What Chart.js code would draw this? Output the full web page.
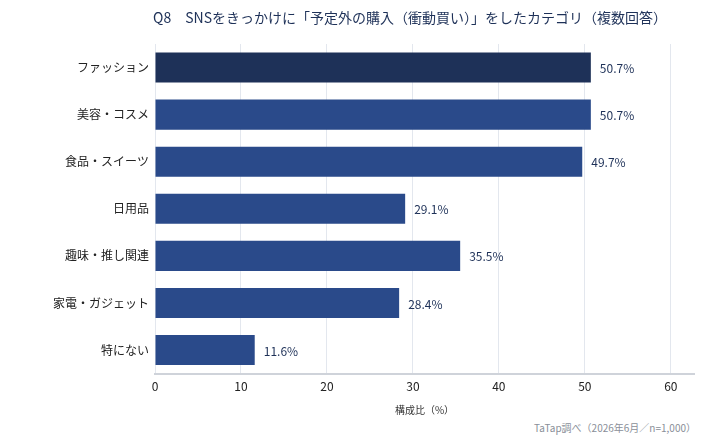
<!DOCTYPE html>
<html lang="ja">
<head>
<meta charset="UTF-8">
<title>Q8</title>
<script src="https://cdn.jsdelivr.net/npm/chart.js@4"></script>
<style>
  body { margin: 0; background: #fff; }
  #wrap { position: relative; width: 706px; height: 445px; }
  #note { position: absolute; right: 10px; top: 420px; font: 10px "Noto Sans CJK JP", sans-serif; color: #8a8f99; }
</style>
</head>
<body>
<div id="wrap">
  <canvas id="c" width="706" height="420"></canvas>
  <div id="note">TaTap調べ（2026年6月／n=1,000）</div>
</div>
<script>
const categories = ["ファッション", "美容・コスメ", "食品・スイーツ", "日用品", "趣味・推し関連", "家電・ガジェット", "特にない"];
const values = [50.7, 50.7, 49.7, 29.1, 35.5, 28.4, 11.6];
const tickValues = [0, 10, 20, 30, 40, 50, 60];
const barColors = ["#1e3158", "#2a4a8a", "#2a4a8a", "#2a4a8a", "#2a4a8a", "#2a4a8a", "#2a4a8a"];
const titleText = 'Q8　SNSをきっかけに「予定外の購入（衝動買い）」をしたカテゴリ（複数回答）';
const font = '"Noto Sans CJK JP", sans-serif';

// value labels + title centred over the bars area
const extras = {
  id: 'extras',
  afterDatasetsDraw(chart) {
    const ctx = chart.ctx;
    const meta = chart.getDatasetMeta(0);
    ctx.save();
    ctx.font = '12px ' + font;
    ctx.fillStyle = '#1e3158';
    ctx.textBaseline = 'middle';
    meta.data.forEach((bar, i) => {
      ctx.fillText(values[i].toFixed(1) + '%', bar.x + 9, bar.y + 1);
    });
    ctx.font = '14px ' + font;
    ctx.textAlign = 'center';
    ctx.fillText(titleText, 410, 18);
    ctx.restore();
  }
};

new Chart(document.getElementById('c'), {
  type: 'bar',
  data: {
    labels: categories,
    datasets: [{ data: values, backgroundColor: barColors, barPercentage: 0.64, categoryPercentage: 1 }]
  },
  options: {
    indexAxis: 'y',
    responsive: false,
    animation: false,
    layout: { padding: { left: 10, right: 12, top: 44, bottom: 0 } },
    plugins: {
      legend: { display: false },
      tooltip: { enabled: false }
    },
    scales: {
      x: {
        min: 0, max: 62.7,
        grid: { color: '#e3e7ee', drawTicks: false },
        border: { color: '#cfd3da', width: 2 },
        afterBuildTicks: axis => { axis.ticks = tickValues.map(v => ({ value: v })); },
        ticks: {
          color: '#222', padding: 6,
          font: { family: font, size: 12 }
        },
        title: { display: true, text: '構成比（%）', color: '#333', font: { family: font, size: 10 }, padding: { top: 4 } }
      },
      y: {
        afterFit: axis => { axis.width = 145; },
        grid: { display: false, drawTicks: false },
        border: { display: false },
        ticks: { color: '#222', padding: 6, font: { family: font, size: 12 } }
      }
    }
  },
  plugins: [extras]
});
</script>
</body>
</html>
